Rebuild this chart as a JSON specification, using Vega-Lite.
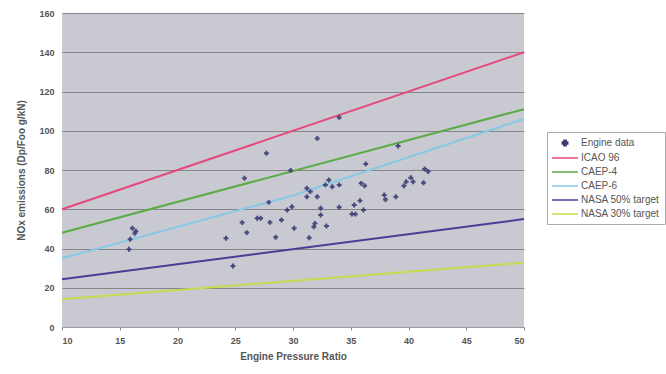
{
  "$schema": "https://vega.github.io/schema/vega-lite/v6.json",
  "autosize": "none",
  "width": 462,
  "height": 314,
  "padding": {"left": 62, "top": 13, "right": 142, "bottom": 47},
  "background": "#ffffff",
  "config": {
    "view": {"fill": "#c9c9d1", "stroke": null},
    "font": "Liberation Sans",
    "axis": {
      "labelFont": "Liberation Sans",
      "titleFont": "Liberation Sans",
      "labelColor": "#555",
      "titleColor": "#555",
      "labelFontSize": 9,
      "labelFontWeight": "bold",
      "titleFontSize": 10,
      "titleFontWeight": "bold",
      "domain": false,
      "tickColor": "#888",
      "tickSize": 3,
      "gridColor": "#5a5a5a",
      "gridOpacity": 0.6,
      "labelOverlap": false
    },
    "legend": {
      "orient": "none",
      "legendX": 485,
      "legendY": 119,
      "strokeColor": "#aaa",
      "padding": 5,
      "labelFontSize": 10,
      "labelColor": "#555",
      "labelFont": "Liberation Sans",
      "labelOffset": 17,
      "labelLimit": 200,
      "symbolSize": 100,
      "symbolStrokeWidth": 1.5,
      "rowPadding": 3
    }
  },
  "datasets": {
    "engines": [
      {"opr": 15.8, "nox": 39.6}, {"opr": 15.9, "nox": 44.7}, {"opr": 16.1, "nox": 50.3},
      {"opr": 16.3, "nox": 47.7}, {"opr": 16.4, "nox": 48.8},
      {"opr": 24.2, "nox": 45.2}, {"opr": 24.8, "nox": 31.1}, {"opr": 25.6, "nox": 53.2},
      {"opr": 25.8, "nox": 75.8}, {"opr": 26.0, "nox": 48.1}, {"opr": 26.9, "nox": 55.4},
      {"opr": 27.2, "nox": 55.4}, {"opr": 27.7, "nox": 88.5}, {"opr": 27.9, "nox": 63.5},
      {"opr": 28.0, "nox": 53.3}, {"opr": 28.5, "nox": 45.7}, {"opr": 29.0, "nox": 54.5},
      {"opr": 29.5, "nox": 59.6}, {"opr": 29.8, "nox": 79.8}, {"opr": 29.9, "nox": 61.3},
      {"opr": 30.1, "nox": 50.3}, {"opr": 31.2, "nox": 70.7}, {"opr": 31.2, "nox": 66.4},
      {"opr": 31.4, "nox": 45.5}, {"opr": 31.5, "nox": 69.0}, {"opr": 31.8, "nox": 51.1},
      {"opr": 31.9, "nox": 52.8}, {"opr": 32.1, "nox": 96.1}, {"opr": 32.1, "nox": 66.4},
      {"opr": 32.4, "nox": 60.5}, {"opr": 32.4, "nox": 57.1}, {"opr": 32.8, "nox": 72.4},
      {"opr": 32.9, "nox": 51.5}, {"opr": 33.1, "nox": 74.9}, {"opr": 33.4, "nox": 71.5},
      {"opr": 34.0, "nox": 106.8}, {"opr": 34.0, "nox": 72.4}, {"opr": 34.0, "nox": 61.0},
      {"opr": 35.1, "nox": 57.6}, {"opr": 35.3, "nox": 62.2}, {"opr": 35.4, "nox": 57.5},
      {"opr": 35.8, "nox": 64.4}, {"opr": 35.9, "nox": 73.2}, {"opr": 36.1, "nox": 59.6},
      {"opr": 36.2, "nox": 72.0}, {"opr": 36.3, "nox": 83.1}, {"opr": 37.9, "nox": 67.3},
      {"opr": 38.0, "nox": 65.0}, {"opr": 38.9, "nox": 66.4}, {"opr": 39.1, "nox": 92.2},
      {"opr": 39.6, "nox": 72.0}, {"opr": 39.8, "nox": 74.0}, {"opr": 40.2, "nox": 76.1},
      {"opr": 40.4, "nox": 74.0}, {"opr": 41.3, "nox": 73.5}, {"opr": 41.4, "nox": 80.5},
      {"opr": 41.7, "nox": 79.2}
    ],
    "limits": [
      {"series": "ICAO 96", "opr": 10, "nox": 60},
      {"series": "ICAO 96", "opr": 50, "nox": 140},
      {"series": "CAEP-4", "opr": 10, "nox": 48},
      {"series": "CAEP-4", "opr": 50, "nox": 111},
      {"series": "CAEP-6", "opr": 10, "nox": 35},
      {"series": "CAEP-6", "opr": 30, "nox": 67},
      {"series": "CAEP-6", "opr": 50, "nox": 106},
      {"series": "NASA 50% target", "opr": 10, "nox": 24.3},
      {"series": "NASA 50% target", "opr": 50, "nox": 55},
      {"series": "NASA 30% target", "opr": 10, "nox": 14.2},
      {"series": "NASA 30% target", "opr": 50, "nox": 32.8}
    ]
  },
  "encoding": {
    "x": {"field": "opr", "type": "quantitative",
          "scale": {"domain": [10, 50], "nice": false},
          "axis": {"title": "Engine Pressure Ratio", "values": [10,15,20,25,30,35,40,45,50], "grid": false, "labelPadding": 6, "titlePadding": 6}},
    "y": {"field": "nox", "type": "quantitative",
          "scale": {"domain": [0, 160], "nice": false},
          "axis": {"title": "NOx emissions (Dp/Foo g/kN)", "values": [0,20,40,60,80,100,120,140,160], "tickCount": 9, "grid": true, "ticks": false, "labelPadding": 8, "titlePadding": 12}}
  },
  "layer": [
    {
      "data": {"name": "limits"},
      "mark": {"type": "line", "strokeWidth": 2},
      "encoding": {
        "color": {"field": "series", "type": "nominal", "title": null,
                  "scale": {"domain": ["Engine data", "ICAO 96", "CAEP-4", "CAEP-6", "NASA 50% target", "NASA 30% target"],
                            "range": ["#3b3b72", "#e4487c", "#5bab47", "#86c9e6", "#4b3c96", "#c6dc4e"]},
                  "legend": {"encode": {"symbols": {"update": {
                    "size": {"signal": "datum.value === 'Engine data' ? 30 : 100"},
                    "x": {"value": 13}
                  }}}}},
        "detail": {"field": "series"}
      }
    },
    {
      "data": {"name": "engines"},
      "transform": [{"calculate": "'Engine data'", "as": "series"}],
      "mark": {"type": "point", "filled": true, "size": 24, "opacity": 0.9},
      "encoding": {
        "color": {"field": "series", "type": "nominal", "title": null},
        "shape": {"field": "series", "type": "nominal", "title": null,
                  "scale": {"domain": ["Engine data", "ICAO 96", "CAEP-4", "CAEP-6", "NASA 50% target", "NASA 30% target"],
                            "range": ["cross", "M-2.6,0H2.6", "M-2.6,0H2.6", "M-2.6,0H2.6", "M-2.6,0H2.6", "M-2.6,0H2.6"]}}
      }
    }
  ],
  "resolve": {"scale": {"color": "shared"}}
}
